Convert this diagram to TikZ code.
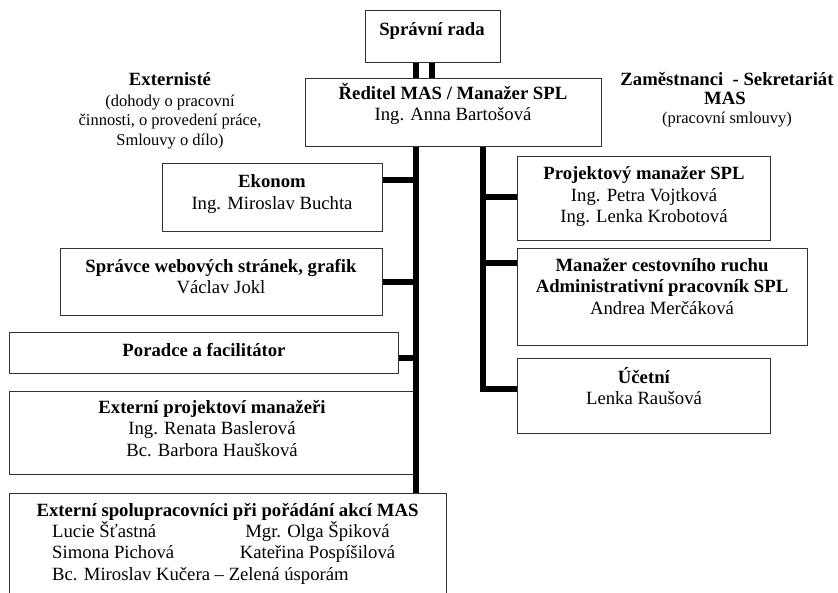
\documentclass[tikz,border=0pt]{standalone}
\usepackage{fontspec}
\setmainfont{Liberation Serif}
\usepackage{tikz}
\newcommand{\boxfont}{\fontsize{18.7}{21.5}\selectfont}
\newcommand{\notefont}{\fontsize{16.5}{19.7}\selectfont}

\begin{document}
\begin{tikzpicture}[x=1pt, y=-1pt,
	box/.style={draw=black!80, line width=0.8pt, anchor=north west, inner sep=0pt},
	link/.style={line width=5.3pt},
	txt/.style={anchor=base, align=center, inner sep=0pt, font=\boxfont},
	note/.style={anchor=base, align=center, inner sep=0pt, font=\notefont}]

	\useasboundingbox (0,0) rectangle (838,593);
	\clip (0,0) rectangle (838,593);

	% top (text nodes sit on the baseline of their last line)
	\node[box, minimum width=135pt, minimum height=52pt] (rada) at (365,10) {};
	\node[box, minimum width=296pt, minimum height=68pt] (reditel) at (305,78) {};
	\node[txt] (radatxt) at (432,36) {\textbf{Správní rada}};
	\node[txt] (reditxt) at (453,121) {\textbf{Ředitel MAS / Manažer SPL}\\Ing. Anna Bartošová};

	% externisté
	\node[txt] (externiste) at (170,86) {\textbf{Externisté}};
	\node[note] (externistenote) at (170,145.5) {(dohody o pracovní\\činnosti, o provedení práce,\\Smlouvy o dílo)};

	\node[box, minimum width=220pt, minimum height=68pt] (ekonom) at (162,163) {};
	\node[box, minimum width=322pt, minimum height=67pt] (spravce) at (60,248) {};
	\node[box, minimum width=389pt, minimum height=41pt] (poradce) at (9,332) {};
	\node[box, minimum width=406pt, minimum height=83pt] (externi) at (9,391) {};
	\node[box, minimum width=437pt, minimum height=120pt] (spolu) at (9,493) {};

	\node[txt] (ekonomtxt) at (272,209.5) {\textbf{Ekonom}\\Ing. Miroslav Buchta};
	\node[txt] (spravcetxt) at (221,294) {\textbf{Správce webových stránek, grafik}\\Václav Jokl};
	\node[txt] (poradcetxt) at (204,357) {\textbf{Poradce a facilitátor}};
	\node[txt] (externitxt) at (212,456.5) {\textbf{Externí projektoví manažeři}\\Ing. Renata Baslerová\\Bc. Barbora Haušková};
	\node[txt] (spolutxt) at (227.5,516) {\textbf{Externí spolupracovníci při pořádání akcí MAS}};
	\node[txt, anchor=base west] (lucie) at (52,537) {Lucie Šťastná};
	\node[txt] (olga) at (317.5,537) {Mgr. Olga Špiková};
	\node[txt, anchor=base west] (simona) at (52,558.5) {Simona Pichová};
	\node[txt] (katerina) at (317.5,558.5) {Kateřina Pospíšilová};
	\node[txt, anchor=base west] (kucera) at (52,580) {Bc. Miroslav Kučera – Zelená úsporám};

	% zaměstnanci
	\node[txt] (zamestnanci) at (727,86) {\textbf{Zaměstnanci~ - Sekretariát}};
	\node[txt] (zamestnancimas) at (725,105) {\textbf{MAS}};
	\node[note] (zamestnancinote) at (727,123.5) {(pracovní smlouvy)};

	\node[box, minimum width=253pt, minimum height=84pt] (projekt) at (517,156) {};
	\node[box, minimum width=290pt, minimum height=97pt] (cestovni) at (517,248) {};
	\node[box, minimum width=253pt, minimum height=75pt] (ucetni) at (517,358) {};

	\node[txt] (projekttxt) at (644,223) {\textbf{Projektový manažer SPL}\\Ing. Petra Vojtková\\Ing. Lenka Krobotová};
	\node[txt] (cestovnitxt) at (662,314.5) {\textbf{Manažer cestovního ruchu}\\\textbf{Administrativní pracovník SPL}\\Andrea Merčáková};
	\node[txt] (ucetnitxt) at (644,405) {\textbf{Účetní}\\Lenka Raušová};

	% links
	\foreach \x in {416,432}
		\draw[link] (rada.south -| \x,0) -- (reditel.north -| \x,0);

	\coordinate (ltop) at (reditel.south -| 416,0);
	\coordinate (rtop) at (reditel.south -| 483,0);

	\draw[link] (ltop) -- (spolu.north -| ltop);
	\foreach \n/\y in {ekonom/180, spravce/282, poradce/358}
		\draw[link] (\n.east |- 0,\y) -- (ltop |- 0,\y);

	\draw[link] (rtop) |- (ucetni.west |- 0,389);
	\foreach \n/\y in {projekt/197, cestovni/263}
		\draw[link] (\n.west |- 0,\y) -- (rtop |- 0,\y);

\end{tikzpicture}
\end{document}
